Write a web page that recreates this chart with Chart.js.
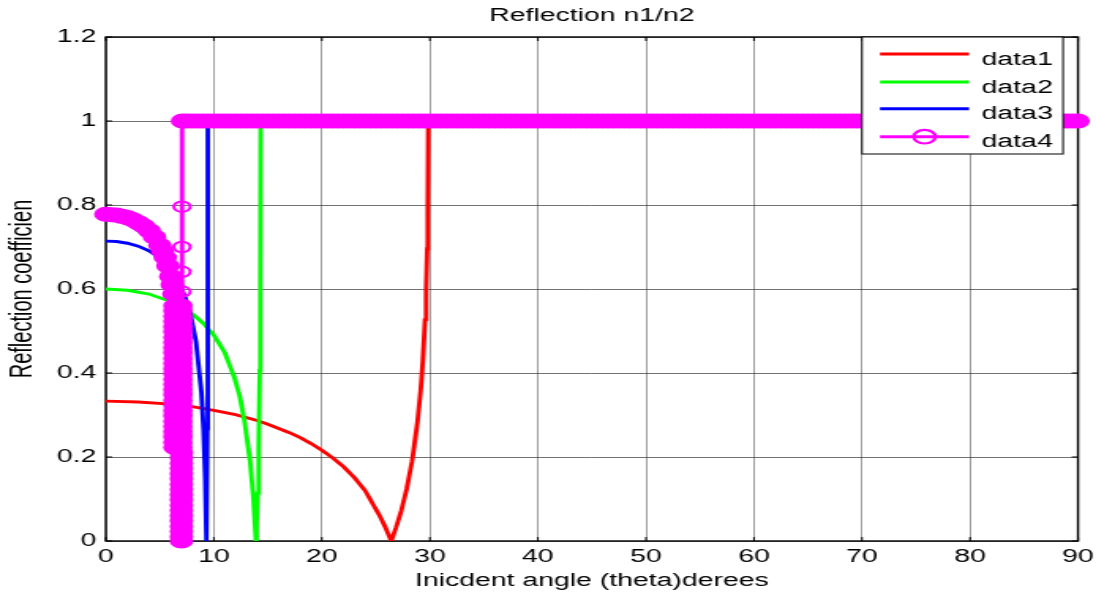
<!DOCTYPE html>
<html>
<head>
<meta charset="utf-8">
<script src="https://cdn.jsdelivr.net/npm/chart.js@4.4.1/dist/chart.umd.min.js"></script>
<style>
  html, body { margin: 0; padding: 0; background: #fff; overflow: hidden; }
  #wrap { width: 694px; height: 596px; transform: scaleX(1.5793); transform-origin: 0 0; }
  canvas { display: block; }
</style>
</head>
<body>
<div id="wrap"><canvas id="c" width="694" height="596"></canvas></div>
<script>
// ---------------- data ----------------
const chartTitle = 'Reflection n1/n2';
const xAxisTitle = 'Inicdent angle (theta)derees';
const yAxisTitle = 'Reflection coefficien';
const seriesNames = ['data1', 'data2', 'data3', 'data4'];
const xTickLabels = ['0', '10', '20', '30', '40', '50', '60', '70', '80', '90'];
const yTickLabels = ['0', '0.2', '0.4', '0.6', '0.8', '1', '1.2'];

const angle1 = [0, 3, 6, 8, 10, 12, 14, 15, 17, 18, 19, 20, 21, 22, 23, 24, 24.85, 25.35, 25.85, 26.42,
  26.85, 27.35, 27.85, 28.35, 28.85, 29.15, 29.35, 29.55, 29.65, 29.75, 29.8, 29.85, 90];
const refl1 = [0.333, 0.331, 0.326, 0.320, 0.311, 0.301, 0.287, 0.278, 0.258, 0.246, 0.232, 0.216, 0.198, 0.177, 0.151, 0.120, 0.082, 0.060, 0.034, 0,
  0.031, 0.072, 0.124, 0.190, 0.283, 0.360, 0.430, 0.527, 0.596, 0.696, 0.775, 1, 1];

const angle2 = [0, 2, 4, 6, 7, 8, 9, 10, 11, 11.4, 11.9, 12.4, 12.85, 13.35, 13.65, 13.9,
  13.95, 14.05, 14.15, 14.25, 14.3, 14.33, 90];
const refl2 = [0.600, 0.597, 0.588, 0.570, 0.557, 0.541, 0.519, 0.490, 0.449, 0.422, 0.389, 0.344, 0.283, 0.191, 0.104, 0,
  0.038, 0.114, 0.221, 0.406, 0.598, 1, 1];

const angle3 = [0, 1, 2, 3, 4, 5, 6, 6.85, 7.35, 7.85, 8.35, 8.85, 9.05, 9.2, 9.31, 9.4, 9.43, 9.45, 90];
const refl3 = [0.714, 0.713, 0.709, 0.702, 0.691, 0.674, 0.649, 0.610, 0.580, 0.538, 0.474, 0.354, 0.264, 0.151, 0, 0.267, 0.508, 1, 1];

// data4: descent, the dense column near 6.4-7.0 deg, the rise at the critical angle, then total reflection
const angle4 = [
  0, 0.5, 1, 1.5, 2, 2.5, 3, 3.5, 4, 4.5, 5, 5.25, 5.5, 5.75, 6, 6.15, 6.3,
  6.4, 6.4, 6.4, 6.4, 6.4, 6.4, 6.4, 6.4, 6.4, 6.4, 6.4, 6.4, 6.4, 6.4,
  6.4, 6.4, 6.4, 6.4, 6.4, 6.4, 6.4, 6.4, 6.4, 6.4, 6.4, 6.4, 6.4, 6.4,
  6.95, 6.95, 6.95, 6.95, 6.95, 6.95, 6.95, 6.95, 6.95, 6.95, 6.95, 6.95, 6.95, 6.95,
  6.95, 6.95, 6.95, 6.95, 6.95, 6.95, 6.95, 6.95, 6.95, 6.95, 6.95, 6.95, 6.95, 6.95,
  7, 7, 7, 7, 7, 7, 7, 7, 7, 7, 7, 7, 7, 7, 7, 7, 7, 7,
  7.05, 7.05, 7.05, 7.05, 7.05, 7.05, 7.05, 7.05, 7.05, 7.05,
  7.1, 7.5, 8, 8.5, 9, 9.5, 10, 10.5, 11, 11.5, 12, 12.5, 13, 13.5, 14, 14.5, 15, 15.5, 16, 16.5,
  17, 17.5, 18, 18.5, 19, 19.5, 20, 20.5, 21, 21.5, 22, 22.5, 23, 23.5, 24, 24.5, 25, 25.5, 26, 26.5,
  27, 27.5, 28, 28.5, 29, 29.5, 30, 30.5, 31, 31.5, 32, 32.5, 33, 33.5, 34, 34.5, 35, 35.5, 36, 36.5,
  37, 37.5, 38, 38.5, 39, 39.5, 40, 40.5, 41, 41.5, 42, 42.5, 43, 43.5, 44, 44.5, 45, 45.5, 46, 46.5,
  47, 47.5, 48, 48.5, 49, 49.5, 50, 50.5, 51, 51.5, 52, 52.5, 53, 53.5, 54, 54.5, 55, 55.5, 56, 56.5,
  57, 57.5, 58, 58.5, 59, 59.5, 60, 60.5, 61, 61.5, 62, 62.5, 63, 63.5, 64, 64.5, 65, 65.5, 66, 66.5,
  67, 67.5, 68, 68.5, 69, 69.5, 70, 70.5, 71, 71.5, 72, 72.5, 73, 73.5, 74, 74.5, 75, 75.5, 76, 76.5,
  77, 77.5, 78, 78.5, 79, 79.5, 80, 80.5, 81, 81.5, 82, 82.5, 83, 83.5, 84, 84.5, 85, 85.5, 86, 86.5,
  87, 87.5, 88, 88.5, 89, 89.5, 90];
const refl4 = [
  0.778, 0.777, 0.776, 0.773, 0.770, 0.765, 0.758, 0.750, 0.739, 0.724, 0.704, 0.690, 0.675, 0.655, 0.630, 0.610, 0.588,
  0.560, 0.548, 0.535, 0.523, 0.510, 0.498, 0.485, 0.473, 0.460, 0.448, 0.435, 0.423, 0.410, 0.398,
  0.385, 0.373, 0.360, 0.348, 0.335, 0.323, 0.310, 0.298, 0.285, 0.273, 0.260, 0.248, 0.235, 0.223,
  0.223, 0.235, 0.248, 0.260, 0.273, 0.285, 0.298, 0.310, 0.323, 0.335, 0.348, 0.360, 0.373, 0.385,
  0.398, 0.410, 0.423, 0.435, 0.448, 0.460, 0.473, 0.485, 0.498, 0.510, 0.523, 0.535, 0.548, 0.560,
  0.210, 0.198, 0.185, 0.173, 0.160, 0.148, 0.135, 0.123, 0.110, 0.098, 0.085, 0.073, 0.060, 0.048, 0.035, 0.023, 0.010, 0,
  0.050, 0.150, 0.250, 0.350, 0.450, 0.522, 0.594, 0.641, 0.700, 0.796,
  1, 1, 1, 1, 1, 1, 1, 1, 1, 1, 1, 1, 1, 1, 1, 1, 1, 1, 1, 1,
  1, 1, 1, 1, 1, 1, 1, 1, 1, 1, 1, 1, 1, 1, 1, 1, 1, 1, 1, 1,
  1, 1, 1, 1, 1, 1, 1, 1, 1, 1, 1, 1, 1, 1, 1, 1, 1, 1, 1, 1,
  1, 1, 1, 1, 1, 1, 1, 1, 1, 1, 1, 1, 1, 1, 1, 1, 1, 1, 1, 1,
  1, 1, 1, 1, 1, 1, 1, 1, 1, 1, 1, 1, 1, 1, 1, 1, 1, 1, 1, 1,
  1, 1, 1, 1, 1, 1, 1, 1, 1, 1, 1, 1, 1, 1, 1, 1, 1, 1, 1, 1,
  1, 1, 1, 1, 1, 1, 1, 1, 1, 1, 1, 1, 1, 1, 1, 1, 1, 1, 1, 1,
  1, 1, 1, 1, 1, 1, 1, 1, 1, 1, 1, 1, 1, 1, 1, 1, 1, 1, 1, 1,
  1, 1, 1, 1, 1, 1, 1];

// ---------------- helpers ----------------
const FONT = '"Liberation Sans", Arial, Helvetica, sans-serif';
function pts(ax, ay) { return ax.map((x, i) => ({ x: x, y: ay[i] })); }

// markers that overlap their neighbours merge into a solid band (as in the reference)
function isDense(ctx) {
  if (ctx.type !== 'data') return false;
  const d = ctx.dataset.data, i = ctx.dataIndex;
  const xs = ctx.chart.scales.x, ys = ctx.chart.scales.y;
  const p = d[i];
  let m = Infinity;
  [i - 1, i + 1].forEach(j => {
    if (j >= 0 && j < d.length) {
      const q = d[j];
      const dx = xs.getPixelForValue(q.x) - xs.getPixelForValue(p.x);
      const dy = ys.getPixelForValue(q.y) - ys.getPixelForValue(p.y);
      m = Math.min(m, Math.hypot(dx, dy));
    }
  });
  return m < 14;
}

const boxPlugin = {
  id: 'matlabBox',
  beforeDatasetsDraw(chart) {
    const { ctx, chartArea: a, scales: { x, y } } = chart;
    ctx.save();
    ctx.strokeStyle = '#000';
    ctx.lineWidth = 1.4;
    ctx.strokeRect(a.left, a.top, a.right - a.left, a.bottom - a.top);
    ctx.lineWidth = 1;
    const tl = 4;
    ctx.beginPath();
    x.ticks.forEach(t => {
      const px = x.getPixelForValue(t.value);
      ctx.moveTo(px, a.bottom); ctx.lineTo(px, a.bottom - tl);
      ctx.moveTo(px, a.top); ctx.lineTo(px, a.top + tl);
    });
    y.ticks.forEach(t => {
      const py = y.getPixelForValue(t.value);
      ctx.moveTo(a.left, py); ctx.lineTo(a.left + tl, py);
      ctx.moveTo(a.right, py); ctx.lineTo(a.right - tl, py);
    });
    ctx.stroke();
    ctx.restore();
  }
};

const legendPlugin = {
  id: 'innerLegend',
  afterDraw(chart) {
    const { ctx, chartArea: a } = chart;
    const right = a.right - 9.5, left = right - 127.3, top = a.top, bottom = a.top + 117;
    ctx.save();
    ctx.fillStyle = '#fff';
    ctx.fillRect(left, top, right - left, bottom - top);
    ctx.strokeStyle = '#000';
    ctx.lineWidth = 1;
    ctx.strokeRect(left, top, right - left, bottom - top);
    const rowY = [17, 45, 71.7, 99.7];
    chart.data.datasets.forEach((ds, i) => {
      const yy = top + rowY[i];
      ctx.strokeStyle = ds.borderColor;
      ctx.lineWidth = 2.9;
      ctx.beginPath();
      ctx.moveTo(left + 11.4, yy); ctx.lineTo(left + 67.8, yy);
      ctx.stroke();
      if (ds.showMarker) {
        ctx.lineWidth = 2.2;
        ctx.beginPath();
        ctx.arc(left + 39.6, yy, 6.8, 0, Math.PI * 2);
        ctx.stroke();
      }
      ctx.fillStyle = '#000';
      ctx.font = '18px ' + FONT;
      ctx.textAlign = 'left';
      ctx.textBaseline = 'alphabetic';
      ctx.fillText(ds.label, left + 75.8, yy + 10.5);
    });
    ctx.restore();
  }
};

const colors = ['#ff0000', '#00ff00', '#0000ff', '#ff00ff'];
const angles = [angle1, angle2, angle3, angle4];
const refls = [refl1, refl2, refl3, refl4];

const datasets = seriesNames.map((name, i) => {
  const base = {
    label: name,
    data: pts(angles[i], refls[i]),
    borderColor: colors[i],
    backgroundColor: colors[i],
    borderWidth: 2.9,
    tension: 0,
    fill: false,
    order: 3 - i,
    showMarker: i === 3
  };
  if (i === 3) {
    base.clip = false;
    base.pointRadius = ctx => isDense(ctx) ? 6.5 : 5.2;
    base.pointBorderWidth = 2;
    base.pointBorderColor = colors[i];
    base.pointBackgroundColor = ctx => isDense(ctx) ? colors[3] : 'rgba(255,0,255,0)';
  } else {
    base.pointRadius = 0;
  }
  return base;
});

new Chart(document.getElementById('c'), {
  type: 'line',
  data: { datasets: datasets },
  plugins: [boxPlugin, legendPlugin],
  options: {
    responsive: false,
    animation: false,
    events: [],
    layout: { padding: { left: 0, right: 11.4, top: 0, bottom: 0 } },
    plugins: {
      legend: { display: false },
      tooltip: { enabled: false },
      title: {
        display: true,
        text: chartTitle,
        fullSize: false,
        color: '#000',
        font: { family: FONT, size: 18, weight: 'normal' },
        padding: { top: 5.6, bottom: 9.8 }
      }
    },
    scales: {
      x: {
        type: 'linear',
        min: 0, max: 90,
        border: { display: false },
        grid: { color: 'rgba(40,40,40,0.65)', lineWidth: 0.7, borderDash: [1, 2], drawTicks: false },
        ticks: {
          stepSize: 10, padding: 5.7, color: '#000', maxRotation: 0,
          font: { family: FONT, size: 18 },
          callback: (v, i) => xTickLabels[i]
        },
        title: {
          display: true, text: xAxisTitle, color: '#000',
          font: { family: FONT, size: 18 },
          padding: { top: 0, bottom: 4.2 }
        },
        afterFit: s => { s.height = 55; s.paddingLeft = 0; s.paddingRight = 0; }
      },
      y: {
        type: 'linear',
        min: 0, max: 1.2,
        border: { display: false },
        grid: { color: 'rgba(40,40,40,0.65)', lineWidth: 1, borderDash: [1, 1.5], drawTicks: false },
        ticks: {
          stepSize: 0.2, padding: 6, color: '#000',
          font: { family: FONT, size: 18 },
          callback: (v, i) => yTickLabels[i]
        },
        title: {
          display: true, text: yAxisTitle, color: '#000',
          font: { family: FONT, size: 20 },
          padding: { top: 2.2, bottom: 0 }
        },
        afterFit: s => { s.width = 67; s.paddingTop = 0; s.paddingBottom = 0; }
      }
    }
  }
});
</script>
</body>
</html>
